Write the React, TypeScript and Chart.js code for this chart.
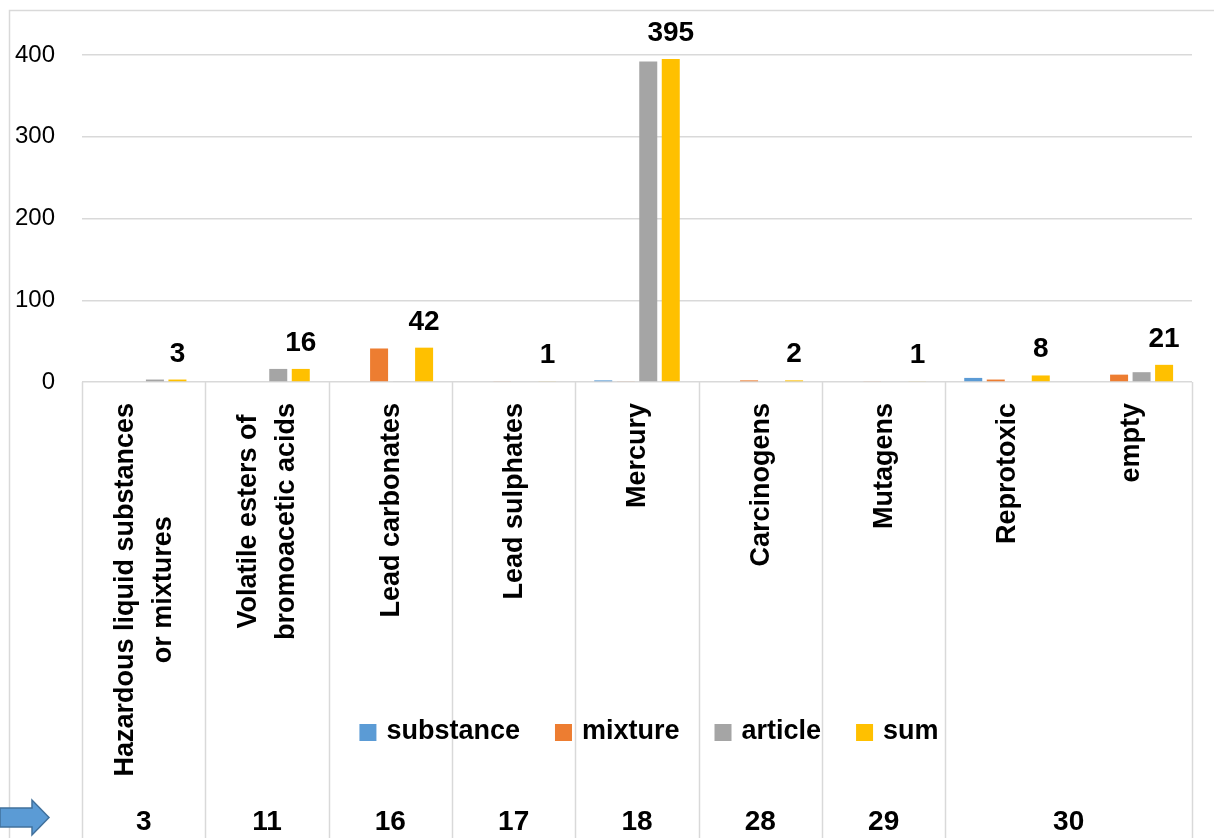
import React, { useEffect, useRef } from 'react';
import { Chart, registerables } from 'chart.js';

Chart.register(...registerables);

// ---- data ----
const categories: string[][] = [
  ['Hazardous liquid substances', 'or mixtures'],
  ['Volatile esters of', 'bromoacetic acids'],
  ['Lead carbonates'],
  ['Lead sulphates'],
  ['Mercury'],
  ['Carcinogens'],
  ['Mutagens'],
  ['Reprotoxic'],
  ['empty'],
];
const groupLabels: string[] = ['3', '11', '16', '17', '18', '28', '29', '30'];
const groupSpans: number[] = [1, 1, 1, 1, 1, 1, 1, 2];

const seriesNames: string[] = ['substance', 'mixture', 'article', 'sum'];
const substance: number[] = [0, 0, 0, 0, 2, 0, 0, 5, 0];
const mixture: number[] = [0, 0, 41, 1, 1, 2, 1, 3, 9];
const article: number[] = [3, 16, 1, 0, 392, 0, 0, 0, 12];
const sum: number[] = [3, 16, 42, 1, 395, 2, 1, 8, 21];
const yTicks: number[] = [0, 100, 200, 300, 400];

const seriesColors: string[] = ['#5B9BD5', '#ED7D31', '#A5A5A5', '#FFC000'];
const FONT = "'Liberation Sans', Arial, sans-serif";
const GRID = '#d9d9d9';

const decorPlugin = {
  id: 'decor',
  beforeDraw(chart: any) {
    const ctx = chart.ctx;
    ctx.save();
    ctx.fillStyle = '#ffffff';
    ctx.fillRect(0, 0, chart.width, chart.height);
    ctx.strokeStyle = GRID;
    ctx.lineWidth = 1.5;
    ctx.beginPath();
    ctx.moveTo(9.5, chart.height);
    ctx.lineTo(9.5, 10.5);
    ctx.lineTo(chart.width, 10.5);
    ctx.stroke();
    ctx.restore();
  },
  afterDatasetsDraw(chart: any) {
    const ctx = chart.ctx;
    const meta = chart.getDatasetMeta(3);
    const data = chart.data.datasets[3].data as number[];
    ctx.save();
    ctx.fillStyle = '#000';
    ctx.font = `bold 28px ${FONT}`;
    ctx.textAlign = 'center';
    ctx.textBaseline = 'alphabetic';
    meta.data.forEach((el: any, i: number) => {
      ctx.fillText(String(data[i]), el.x, el.y - 18);
    });
    ctx.restore();
  },
  afterDraw(chart: any) {
    const ctx = chart.ctx;
    const xs = chart.scales.x;
    const area = chart.chartArea;
    const n = categories.length;
    ctx.save();

    // group separators
    ctx.strokeStyle = GRID;
    ctx.lineWidth = 1.5;
    let start = 0;
    const bounds: number[] = [xs.getPixelForValue(-0.5)];
    groupSpans.forEach((s) => {
      start += s;
      bounds.push(xs.getPixelForValue(start - 0.5));
    });
    bounds.forEach((bx) => {
      const x = Math.round(bx) + 0.5;
      ctx.beginPath();
      ctx.moveTo(x, area.bottom);
      ctx.lineTo(x, chart.height);
      ctx.stroke();
    });

    // rotated category labels
    ctx.fillStyle = '#000';
    ctx.font = `bold 27px ${FONT}`;
    ctx.textAlign = 'center';
    ctx.textBaseline = 'middle';
    for (let i = 0; i < n; i++) {
      const lines = categories[i];
      const cx = xs.getPixelForValue(i);
      const maxW = Math.max(...lines.map((l) => ctx.measureText(l).width));
      const cy = area.bottom + 21 + maxW / 2;
      lines.forEach((line, j) => {
        const x = cx + (j - (lines.length - 1) / 2) * 38 + 1;
        ctx.save();
        ctx.translate(x, cy);
        ctx.rotate(-Math.PI / 2);
        ctx.fillText(line, 0, 0);
        ctx.restore();
      });
    }

    // group numbers
    ctx.font = `bold 28px ${FONT}`;
    for (let g = 0; g < groupLabels.length; g++) {
      const gx = (bounds[g] + bounds[g + 1]) / 2;
      ctx.fillText(groupLabels[g], gx, 822);
    }

    // legend
    ctx.font = `bold 27px ${FONT}`;
    const box = 17;
    const gapBT = 10;
    const gapItem = 35;
    const widths = seriesNames.map((s) => box + gapBT + ctx.measureText(s).width);
    const total = widths.reduce((a, b) => a + b, 0) + gapItem * (widths.length - 1);
    let lx = 649 - total / 2;
    const ly = 732;
    ctx.textAlign = 'left';
    chart.data.datasets.forEach((ds: any, k: number) => {
      ctx.fillStyle = ds.backgroundColor;
      ctx.fillRect(lx, ly - 8, box, box);
      ctx.fillStyle = '#000';
      ctx.fillText(ds.label, lx + box + gapBT, ly);
      lx += widths[k] + gapItem;
    });

    // arrow
    ctx.beginPath();
    ctx.moveTo(0, 808);
    ctx.lineTo(32, 808);
    ctx.lineTo(32, 800);
    ctx.lineTo(49, 817.5);
    ctx.lineTo(32, 835);
    ctx.lineTo(32, 827);
    ctx.lineTo(0, 827);
    ctx.closePath();
    ctx.fillStyle = '#5B9BD5';
    ctx.fill();
    ctx.strokeStyle = '#41719C';
    ctx.lineWidth = 1.5;
    ctx.stroke();

    ctx.restore();
  },
};

export default function App() {
  const ref = useRef<HTMLCanvasElement | null>(null);
  useEffect(() => {
    if (!ref.current) return;
    const values = [substance, mixture, article, sum];
    const chart = new Chart(ref.current, {
      type: 'bar',
      data: {
        labels: categories,
        datasets: seriesNames.map((name, k) => ({
          label: name,
          data: values[k],
          backgroundColor: seriesColors[k],
          borderWidth: 0,
          categoryPercentage: 0.73,
          barPercentage: 0.8,
        })),
      },
      options: {
        responsive: false,
        animation: false,
        devicePixelRatio: 1,
        layout: { padding: { top: 55, right: 22, bottom: 0, left: 0 } },
        plugins: {
          legend: { display: false },
          tooltip: { enabled: false },
          title: { display: false },
        },
        scales: {
          x: {
            type: 'category',
            position: 'bottom',
            ticks: { display: false },
            grid: { display: false },
            border: { display: false },
            afterFit: (s: any) => {
              s.height = 456;
            },
          },
          y: {
            min: 0,
            max: 400,
            afterBuildTicks: (s: any) => {
              s.ticks = yTicks.map((v) => ({ value: v }));
            },
            ticks: {
              color: '#000',
              font: { family: FONT, size: 24 },
              padding: 27,
            },
            grid: { color: GRID, lineWidth: 1.5, drawTicks: false },
            border: { display: false },
            afterFit: (s: any) => {
              s.width = 82;
            },
          },
        },
      },
      plugins: [decorPlugin],
    } as any);
    return () => chart.destroy();
  }, []);
  return (
    <div style={{ position: 'absolute', left: 0, top: 0, width: 1214, height: 838, background: '#fff' }}>
      <canvas ref={ref} width={1214} height={838} style={{ display: 'block' }} />
    </div>
  );
}
